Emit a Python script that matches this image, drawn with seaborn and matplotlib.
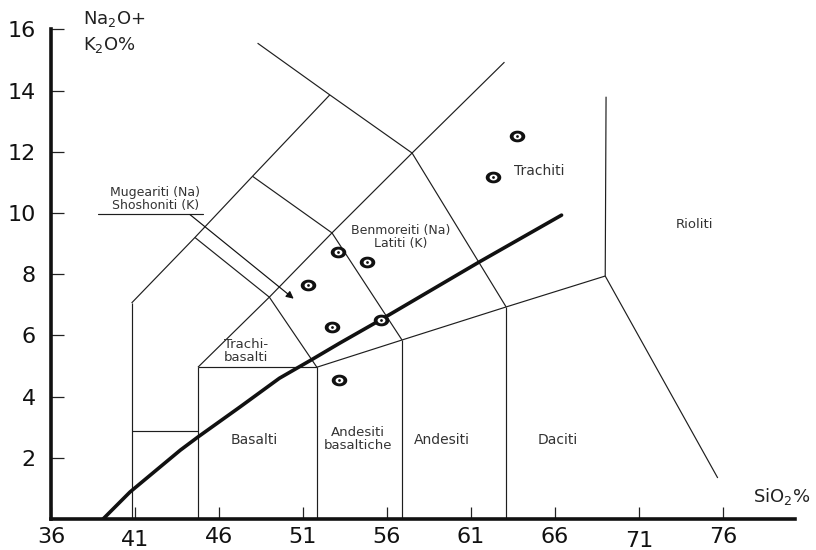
import numpy as np
import pandas as pd
import seaborn as sns
import matplotlib
matplotlib.use("Agg")
import matplotlib.pyplot as plt
from matplotlib.path import Path
from matplotlib.markers import MarkerStyle
from matplotlib.transforms import ScaledTranslation

# ---------------- data ----------------
sample_sio2 = [63.74, 62.31, 53.08, 54.81, 51.30, 52.73, 55.64, 53.14]
sample_alk = [12.52, 11.18, 8.73, 8.40, 7.65, 6.27, 6.50, 4.54]

# alkaline / subalkaline divide (thick line)
divide_sio2 = [39.1, 40.7, 43.7, 44.75, 47.25, 49.6, 51.5, 53.2, 55.6, 61.5, 66.4]
divide_alk = [0.0, 0.88, 2.25, 2.68, 3.66, 4.6, 5.2, 5.75, 6.5, 8.4, 9.93]

# classification field boundaries (thin lines)
b_picro_v_x, b_picro_v_y = [40.8, 40.8], [0.0, 7.06]
b_picro_h_x, b_picro_h_y = [40.8, 44.75], [2.88, 2.88]
b_45_x, b_45_y = [44.75, 44.75], [0.0, 4.96]
b_bas_top_x, b_bas_top_y = [44.75, 51.83], [4.96, 4.96]
b_52_x, b_52_y = [51.83, 51.83], [0.0, 4.96]
b_57_x, b_57_y = [56.9, 56.9], [0.0, 5.85]
b_63_x, b_63_y = [63.1, 63.1], [0.0, 6.93]
b_low_x, b_low_y = [51.83, 56.9, 63.1, 69.0], [4.96, 5.85, 6.93, 7.94]
b_dac_x, b_dac_y = [69.0, 75.7], [7.94, 1.34]
b_rhy_x, b_rhy_y = [69.0, 69.05], [7.94, 13.8]
b_foid_x, b_foid_y = [40.8, 44.57, 48.0, 52.6], [7.06, 9.2, 11.2, 13.86]
b_tb_x, b_tb_y = [44.57, 49.0, 51.83], [9.2, 7.25, 4.96]
b_long_x, b_long_y = [44.75, 49.0, 52.73, 57.5], [4.96, 7.25, 9.35, 11.96]
b_bta_x, b_bta_y = [48.0, 52.73, 56.9], [11.2, 9.35, 5.85]
b_top_x, b_top_y = [48.3, 52.6, 57.5], [15.55, 13.86, 11.96]
b_ph_x, b_ph_y = [57.5, 63.0], [11.96, 14.93]
b_tr_x, b_tr_y = [57.5, 63.1], [11.96, 6.93]

boundaries = [
    (b_picro_v_x, b_picro_v_y), (b_picro_h_x, b_picro_h_y), (b_45_x, b_45_y),
    (b_bas_top_x, b_bas_top_y), (b_52_x, b_52_y), (b_57_x, b_57_y),
    (b_63_x, b_63_y), (b_low_x, b_low_y), (b_dac_x, b_dac_y),
    (b_rhy_x, b_rhy_y), (b_foid_x, b_foid_y), (b_tb_x, b_tb_y),
    (b_long_x, b_long_y), (b_bta_x, b_bta_y), (b_top_x, b_top_y),
    (b_ph_x, b_ph_y), (b_tr_x, b_tr_y),
]

x_ticks = [36, 41, 46, 51, 56, 61, 66, 71, 76]
y_ticks = [2, 4, 6, 8, 10, 12, 14, 16]

field_labels = ["Trachiti", "Rioliti", "Benmoreiti (Na)\nLatiti (K)",
                "Mugeariti (Na)\nShoshoniti (K)", "Trachi-\nbasalti", "Basalti",
                "Andesiti\nbasaltiche", "Andesiti", "Daciti"]
label_x = [65.1, 74.3, 56.8, 42.2, 47.6, 48.1, 54.3, 59.3, 66.2]
label_y = [11.37, 9.64, 9.23, 10.47, 5.5, 2.58, 2.6, 2.58, 2.58]
label_size = [10, 9.5, 9, 9, 9.5, 10, 9.5, 10, 10]

# ---------------- figure ----------------
sns.set_theme(style="white")
plt.rcParams["font.family"] = ["DejaVu Sans"]
plt.rcParams["mathtext.default"] = "regular"

fig = plt.figure(figsize=(8.16, 5.5), dpi=100)
ax = fig.add_axes([51 / 816, 31 / 550, 744 / 816, 489.6 / 550])
ax.set_xlim(36, 80.3)
ax.set_ylim(0, 16)

line_col = "#1e1e1e"
for bx, by in boundaries:
    ax.plot(bx, by, color=line_col, lw=0.85, solid_capstyle="butt")

div_df = pd.DataFrame({"SiO2": divide_sio2, "Alk": divide_alk})
sns.lineplot(data=div_df, x="SiO2", y="Alk", ax=ax, color="#111111", lw=2.6,
             sort=False, estimator=None)

# samples: bullseye markers
t = np.linspace(0, 2 * np.pi, 60)
ell = Path(np.column_stack([np.cos(t), 0.75 * np.sin(t)]), closed=True)
samp_df = pd.DataFrame({"SiO2": sample_sio2, "Alk": sample_alk})
sns.scatterplot(data=samp_df, x="SiO2", y="Alk", ax=ax, marker=MarkerStyle(ell),
                s=125, color="#111111", edgecolor="#111111", linewidth=0, zorder=5)
sns.scatterplot(data=samp_df, x="SiO2", y="Alk", ax=ax, marker=MarkerStyle(ell),
                s=32, color="white", edgecolor="white", linewidth=0, zorder=6)
sns.scatterplot(data=samp_df, x="SiO2", y="Alk", ax=ax, marker="o",
                s=4, color="#111111", edgecolor="#111111", linewidth=0, zorder=7)

# arrow and underline for Mugeariti label
ax.plot([38.8, 45.05], [9.97, 9.97], color=line_col, lw=0.85)
ax.annotate("", xy=(50.45, 7.2), xytext=(44.27, 9.95),
            arrowprops=dict(arrowstyle="-|>", color="#111111", lw=0.85,
                            mutation_scale=11, shrinkA=0, shrinkB=0))

for txt, lx, ly, fs in zip(field_labels, label_x, label_y, label_size):
    ax.text(lx, ly, txt, ha="center", va="center", fontsize=fs, color="#333333",
            linespacing=1.0)

# axis titles
ax.text(37.9, 16.35, "Na$_2$O+", ha="left", va="center", fontsize=13,
        color="#222222", clip_on=False)
ax.text(37.9, 15.5, "K$_2$O%", ha="left", va="center", fontsize=13,
        color="#222222", clip_on=False)
ax.text(77.8, 0.72, "SiO$_2$%", ha="left", va="center", fontsize=13,
        color="#222222", clip_on=False)

# axes styling
for side in ["top", "right"]:
    ax.spines[side].set_visible(False)
for side in ["left", "bottom"]:
    ax.spines[side].set_linewidth(2.6)
    ax.spines[side].set_color("#111111")
ax.set_xticks(x_ticks)
ax.set_yticks(y_ticks)
ax.set_xticklabels([str(v) for v in x_ticks])
ax.set_yticklabels([str(v) for v in y_ticks])
ax.tick_params(axis="both", which="major", bottom=True, left=True, top=False,
               right=False, direction="in", length=9, width=0.9, color="#222222",
               labelsize=16, labelcolor="#111111")
ax.tick_params(axis="x", pad=6)
ax.tick_params(axis="y", pad=11)
ax.set_xlabel("")
ax.set_ylabel("")

offsets = {"41": -3, "71": -4}
for lab in ax.get_xticklabels():
    dy = offsets.get(lab.get_text())
    if dy:
        lab.set_transform(lab.get_transform() + ScaledTranslation(0, dy / 100, fig.dpi_scale_trans))

fig.savefig("out.png", dpi=100)
